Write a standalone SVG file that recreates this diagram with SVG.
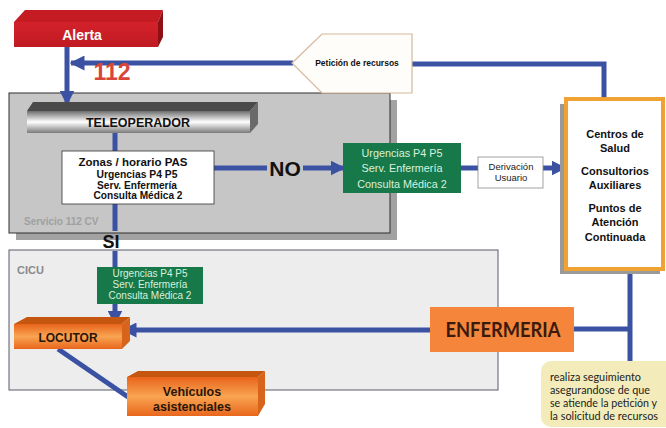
<svg xmlns="http://www.w3.org/2000/svg" width="666" height="428" viewBox="0 0 666 428">
  <defs>
    <linearGradient id="teleFront" x1="0" y1="0" x2="0" y2="1">
      <stop offset="0" stop-color="#6e6e6e"/>
      <stop offset="0.5" stop-color="#ffffff"/>
      <stop offset="1" stop-color="#7a7a7a"/>
    </linearGradient>
    <linearGradient id="orangeFront" x1="0" y1="0" x2="0" y2="1">
      <stop offset="0" stop-color="#e8641a"/>
      <stop offset="0.5" stop-color="#f9a452"/>
      <stop offset="1" stop-color="#e8661c"/>
    </linearGradient>
    <linearGradient id="redFront" x1="0" y1="0" x2="0" y2="1">
      <stop offset="0" stop-color="#d3222b"/>
      <stop offset="1" stop-color="#c01a22"/>
    </linearGradient>
    <marker id="arrow" viewBox="0 0 10 10" refX="9" refY="5" markerWidth="3" markerHeight="3" orient="auto" markerUnits="strokeWidth">
      <path d="M0,0 L10,5 L0,10 z" fill="#3b52a3"/>
    </marker>
    <style>
      .ln { fill: none; stroke: #3b52a3; stroke-width: 5; }
      .b { font-family: "Liberation Sans", Arial, sans-serif; font-weight: bold; text-anchor: middle; }
      .r { font-family: "Liberation Sans", Arial, sans-serif; text-anchor: middle; }
      .green { fill: #17784a; }
      .gtxt { font-family: "Liberation Sans", Arial, sans-serif; fill: #d9f2dc; text-anchor: middle; }
      .cal { font-family: Lato, "Open Sans", sans-serif; }
    </style>
  </defs>

  <!-- background panels -->
  <g id="servicio112">
    <rect x="16" y="100" width="381" height="140" fill="#a2a2a2"/>
    <rect x="9" y="93" width="381" height="140" fill="#c6c6c6" stroke="#2e2e2e" stroke-width="1"/>
    <text x="24" y="225" class="b" style="text-anchor:start" font-size="10" fill="#a0a0a0">Servicio 112 CV</text>
  </g>
  <g id="cicu">
    <rect x="9" y="250" width="489" height="140" fill="#ededed" stroke="#5a5a6a" stroke-width="1"/>
    <text x="17" y="274" class="b" style="text-anchor:start" font-size="11" fill="#8a8a8a">CICU</text>
  </g>

  <!-- connectors -->
  <g id="connectors">
    <!-- Alerta down to Teleoperador -->
    <line class="ln" x1="67" y1="47" x2="67" y2="104" marker-end="url(#arrow)"/>
    <!-- Centros up and across to Petición, then to 112 -->
    <polyline class="ln" points="604,98 604,64 412,64"/>
    <line class="ln" x1="293" y1="63" x2="71" y2="63" marker-end="url(#arrow)"/>
    <!-- Teleoperador to Zonas -->
    <line class="ln" x1="115" y1="132" x2="115" y2="151"/>
    <!-- NO branch -->
    <line class="ln" x1="214" y1="168" x2="267" y2="168" stroke-width="6"/>
    <line class="ln" x1="303" y1="168" x2="344" y2="168" marker-end="url(#arrow)"/>
    <line class="ln" x1="461" y1="168" x2="478" y2="168"/>
    <line class="ln" x1="543" y1="168" x2="565" y2="168" marker-end="url(#arrow)"/>
    <!-- SI branch -->
    <line class="ln" x1="115" y1="204" x2="115" y2="231"/>
    <line class="ln" x1="115" y1="251" x2="115" y2="268"/>
    <line class="ln" x1="115" y1="304" x2="115" y2="324" marker-end="url(#arrow)"/>
    <!-- Enfermeria to Locutor -->
    <line class="ln" x1="430" y1="330" x2="123" y2="330" marker-end="url(#arrow)"/>
    <!-- Centros down to note, with Enfermeria link -->
    <line class="ln" x1="630" y1="268" x2="630" y2="366"/>
    <line class="ln" x1="574" y1="329" x2="630" y2="329"/>
    <!-- Locutor to Vehiculos -->
    <line class="ln" x1="58" y1="349" x2="128" y2="397" stroke-width="4"/>
  </g>

  <!-- Alerta -->
  <g id="alerta">
    <polygon points="14,22 25,10 163,10 158,22" fill="#c41c22"/>
    <polygon points="158,22 163,10 163,37 158,47" fill="#8e1016"/>
    <rect x="14" y="22" width="144" height="25" fill="url(#redFront)"/>
    <text x="82" y="40" class="b" font-size="14" fill="#ffffff">Alerta</text>
  </g>
  <text x="112" y="80" class="b" font-size="23" fill="#d9453b">112</text>

  <!-- Petición de recursos -->
  <g id="peticion">
    <polygon points="292,63 322,34 412,34 412,93 322,93" fill="#fffdf9" stroke="#d6b89c" stroke-width="1.2"/>
    <text x="357" y="66" class="b" font-size="8.5" fill="#111">Petición de recursos</text>
  </g>

  <!-- Teleoperador -->
  <g id="teleoperador">
    <polygon points="27,111 33,102 258,102 250,111" fill="#4a4a4a"/>
    <polygon points="250,111 258,102 258,124 250,133" fill="#6a6a6a"/>
    <rect x="27" y="111" width="223" height="22" fill="url(#teleFront)"/>
    <text x="138" y="127" class="b" font-size="12.5" fill="#111">TELEOPERADOR</text>
  </g>

  <!-- Zonas / horario PAS -->
  <g id="zonas">
    <rect x="62" y="151" width="152" height="53" fill="#ffffff" stroke="#333" stroke-width="0.8"/>
    <text x="133" y="166" class="b" font-size="11" fill="#111" textLength="109" lengthAdjust="spacingAndGlyphs">Zonas / horario PAS</text>
    <text x="137" y="178" class="b" font-size="10" fill="#111" textLength="81" lengthAdjust="spacingAndGlyphs">Urgencias P4 P5</text>
    <text x="137" y="188.5" class="b" font-size="10" fill="#111" textLength="80" lengthAdjust="spacingAndGlyphs">Serv. Enfermería</text>
    <text x="138" y="199" class="b" font-size="10" fill="#111" textLength="89" lengthAdjust="spacingAndGlyphs">Consulta Médica 2</text>
  </g>

  <text x="285" y="176" class="b" font-size="21" fill="#111">NO</text>
  <text x="111" y="248" class="b" font-size="18" fill="#111">SI</text>

  <!-- Green box (NO branch) -->
  <g id="urgencias-no">
    <rect x="343" y="143" width="118" height="50" class="green"/>
    <text x="402" y="157" class="gtxt" font-size="10.8">Urgencias P4 P5</text>
    <text x="402" y="172" class="gtxt" font-size="10.8">Serv. Enfermería</text>
    <text x="402" y="188" class="gtxt" font-size="10.8">Consulta Médica 2</text>
  </g>

  <!-- Derivación Usuario -->
  <g id="derivacion">
    <rect x="478" y="157" width="65" height="31" fill="#ffffff" stroke="#8a8a8a" stroke-width="0.8"/>
    <text x="511" y="170" class="r" font-size="9.5" fill="#222">Derivación</text>
    <text x="511" y="181" class="r" font-size="9.5" fill="#222">Usuario</text>
  </g>

  <!-- Centros de Salud -->
  <g id="centros">
    <rect x="560" y="104" width="100" height="170" fill="#9a9a9a"/>
    <rect x="566" y="99" width="97" height="170" fill="#ffffff" stroke="#f0a233" stroke-width="4"/>
    <text x="615" y="138" class="b" font-size="11" fill="#111">Centros de</text>
    <text x="615" y="152" class="b" font-size="11" fill="#111">Salud</text>
    <text x="615" y="175" class="b" font-size="11" fill="#111">Consultorios</text>
    <text x="615" y="189" class="b" font-size="11" fill="#111">Auxiliares</text>
    <text x="615" y="212" class="b" font-size="11" fill="#111">Puntos de</text>
    <text x="615" y="226" class="b" font-size="11" fill="#111">Atención</text>
    <text x="615" y="241" class="b" font-size="11" fill="#111">Continuada</text>
  </g>

  <!-- Green box (SI branch) -->
  <g id="urgencias-si">
    <rect x="97" y="267" width="106" height="37" class="green"/>
    <text x="150" y="277" class="gtxt" font-size="10">Urgencias P4 P5</text>
    <text x="150" y="288" class="gtxt" font-size="10">Serv. Enfermería</text>
    <text x="150" y="299" class="gtxt" font-size="10">Consulta Médica 2</text>
  </g>

  <!-- Locutor -->
  <g id="locutor">
    <polygon points="14,324 27,317 130,317 122,324" fill="#c4560f"/>
    <polygon points="122,324 130,317 130,341 122,349" fill="#d8641c"/>
    <rect x="14" y="324" width="108" height="25" fill="url(#orangeFront)"/>
    <text x="68" y="342" class="b" font-size="12" fill="#2a1608">LOCUTOR</text>
  </g>

  <!-- Enfermeria -->
  <g id="enfermeria">
    <rect x="430" y="307" width="144" height="45" fill="#f5853a"/>
    <text x="503" y="337" class="cal" font-size="20" font-weight="bold" text-anchor="middle" fill="#3a1a0c" textLength="115" lengthAdjust="spacingAndGlyphs">ENFERMERIA</text>
  </g>

  <!-- Vehículos asistenciales -->
  <g id="vehiculos">
    <polygon points="127,377 138,371 265,371 258,377" fill="#c4560f"/>
    <polygon points="258,377 265,371 265,404 258,416" fill="#d8641c"/>
    <rect x="127" y="377" width="131" height="39" fill="url(#orangeFront)"/>
    <text x="192" y="396" class="b" font-size="12.5" fill="#2a1608">Vehículos</text>
    <text x="192" y="411" class="b" font-size="12.5" fill="#2a1608">asistenciales</text>
  </g>

  <!-- Follow-up note -->
  <g id="nota">
    <path d="M551,361 H666 V427 H551 A10,10 0 0 1 541,417 V371 A10,10 0 0 1 551,361 Z" fill="#f3ecba"/>
    <text x="550" y="381" class="cal" font-size="11" fill="#222" textLength="91" lengthAdjust="spacingAndGlyphs">realiza seguimiento</text>
    <text x="550" y="394" class="cal" font-size="11" fill="#222" textLength="100" lengthAdjust="spacingAndGlyphs">asegurandose de que</text>
    <text x="550" y="407" class="cal" font-size="11" fill="#222" textLength="107" lengthAdjust="spacingAndGlyphs">se atiende la petición y</text>
    <text x="550" y="420" class="cal" font-size="11" fill="#222" textLength="108" lengthAdjust="spacingAndGlyphs">la solicitud de recursos</text>
  </g>
</svg>
